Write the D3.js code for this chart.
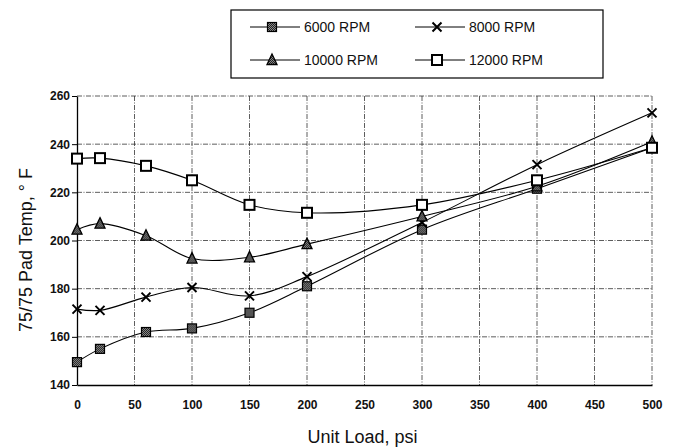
<!DOCTYPE html>
<html>
<head>
<meta charset="utf-8">
<script src="https://cdn.jsdelivr.net/npm/d3@7"></script>
<style>
  body { margin: 0; background: #fff; }
  svg { display: block; font-family: "Liberation Sans", Arial, sans-serif; }
</style>
</head>
<body>
<svg id="chart"></svg>
<script>
// data
var loads = [0, 20, 60, 100, 150, 200, 300, 400, 500];
var rpm6000 = [149.5, 155, 162, 163.5, 170, 181, 204.5, 221.5, 238.5];
var rpm8000 = [171.5, 171, 176.5, 180.5, 177, 185, 207.5, 231.5, 253];
var rpm10000 = [204.5, 207, 202, 192.5, 193, 198.5, 210, 222.5, 241];
var rpm12000 = [234, 234.2, 231, 225, 214.8, 211.5, 214.8, 225, 238.5];
var seriesNames = ["6000 RPM", "8000 RPM", "10000 RPM", "12000 RPM"];
var xTicks = [0, 50, 100, 150, 200, 250, 300, 350, 400, 450, 500];
var yTicks = [140, 160, 180, 200, 220, 240, 260];

var W = 673, H = 448;
var margin = { top: 96, right: 21, bottom: 63, left: 77 },
    width = W - margin.left - margin.right,
    height = H - margin.top - margin.bottom;

var svg = d3.select("#chart").attr("width", W).attr("height", H);

// dithered grey fill like the scanned markers
var defs = svg.append("defs");
var pat = defs.append("pattern").attr("id", "dots")
    .attr("width", 2).attr("height", 2).attr("patternUnits", "userSpaceOnUse");
pat.append("rect").attr("width", 2).attr("height", 2).attr("fill", "#888");
pat.append("rect").attr("width", 1).attr("height", 1).attr("fill", "#222");
pat.append("rect").attr("x", 1).attr("y", 1).attr("width", 1).attr("height", 1).attr("fill", "#222");

var g = svg.append("g").attr("transform", "translate(" + margin.left + "," + margin.top + ")");

var x = d3.scaleLinear().domain([0, 500]).range([0, width]);
var y = d3.scaleLinear().domain([140, 260]).range([height, 0]);

// grid
g.append("g").selectAll("line").data(yTicks.slice(1)).enter().append("line")
    .attr("x1", 0).attr("x2", width)
    .attr("y1", function(d) { return y(d) }).attr("y2", function(d) { return y(d) })
    .attr("stroke", "#333").attr("stroke-width", 0.8).attr("stroke-dasharray", "5,1.5,1,1.5");
g.append("g").selectAll("line").data(xTicks.slice(1)).enter().append("line")
    .attr("y1", 0).attr("y2", height)
    .attr("x1", function(d) { return x(d) }).attr("x2", function(d) { return x(d) })
    .attr("stroke", "#333").attr("stroke-width", 0.8).attr("stroke-dasharray", "5,1.5,1,1.5");

// axes
var yAxis = g.append("g")
    .call(d3.axisLeft(y).tickValues(yTicks).tickSize(5).tickSizeOuter(0));
yAxis.select(".domain").attr("stroke", "#000").attr("stroke-width", 1.3);
yAxis.selectAll("text").attr("font-family", "'Liberation Sans Narrow', 'Liberation Sans', Arial")
    .style("font-size", "12px").attr("font-weight", "bold").attr("fill", "#111").attr("x", -7);

var xAxis = g.append("g").attr("transform", "translate(0," + height + ")")
    .call(d3.axisBottom(x).tickValues(xTicks).tickSize(0).tickSizeOuter(0));
xAxis.select(".domain").attr("stroke", "#000").attr("stroke-width", 1.3);
xAxis.selectAll("text").attr("font-family", "'Liberation Sans Narrow', 'Liberation Sans', Arial")
    .style("font-size", "12px").attr("font-weight", "bold").attr("fill", "#111").attr("y", 15);

// axis titles
svg.append("text").attr("x", margin.left + width / 2 - 2).attr("y", 443)
    .attr("text-anchor", "middle").style("font-size", "18px").attr("fill", "#111")
    .text("Unit Load, psi");
svg.append("text")
    .attr("transform", "translate(32," + 250 + ") rotate(-90)")
    .attr("text-anchor", "middle").style("font-size", "18px").attr("fill", "#111")
    .text("75/75 Pad Temp, ° F");

var line = d3.line()
    .x(function(d) { return x(d[0]) })
    .y(function(d) { return y(d[1]) })
    .curve(d3.curveCatmullRom.alpha(0.5));

var allSeries = [rpm6000, rpm8000, rpm10000, rpm12000];
var markerTypes = ["filled", "cross", "triangle", "square"];

function drawMarker(sel, type) {
    if (type == "filled") {
        sel.append("rect").attr("x", -4.5).attr("y", -4.5).attr("width", 9).attr("height", 9)
            .attr("fill", "url(#dots)").attr("stroke", "#000").attr("stroke-width", 1.2);
    } else if (type == "cross") {
        sel.append("path").attr("d", "M-4.5,-4.5L4.5,4.5M4.5,-4.5L-4.5,4.5")
            .attr("stroke", "#000").attr("stroke-width", 2);
    } else if (type == "triangle") {
        sel.append("path").attr("d", "M0,-6L5,4.5L-5,4.5Z")
            .attr("fill", "url(#dots)").attr("stroke", "#000").attr("stroke-width", 1.3);
    } else {
        sel.append("rect").attr("x", -5).attr("y", -5).attr("width", 10).attr("height", 10)
            .attr("fill", "#fff").attr("stroke", "#000").attr("stroke-width", 2);
    }
}

allSeries.forEach(function(vals, i) {
    var pts = loads.map(function(l, j) { return [l, vals[j]] });
    g.append("path").datum(pts).attr("d", line)
        .attr("fill", "none").attr("stroke", "#000").attr("stroke-width", 1.1);
    g.selectAll(".m" + i).data(pts).enter().append("g")
        .attr("class", "m" + i)
        .attr("transform", function(d) { return "translate(" + x(d[0]) + "," + y(d[1]) + ")" })
        .each(function() { drawMarker(d3.select(this), markerTypes[i]) });
});

// legend
var legend = svg.append("g");
legend.append("rect").attr("x", 231).attr("y", 10).attr("width", 372).attr("height", 68)
    .attr("fill", "#fff").attr("stroke", "#000").attr("stroke-width", 1.2);
var legPos = [[250, 27], [415, 27], [250, 60], [415, 60]];
seriesNames.forEach(function(name, i) {
    var p = legPos[i];
    var item = legend.append("g").attr("transform", "translate(" + p[0] + "," + p[1] + ")");
    item.append("line").attr("x1", 0).attr("x2", 50).attr("y1", 0).attr("y2", 0)
        .attr("stroke", "#000").attr("stroke-width", 1);
    var mk = item.append("g").attr("transform", "translate(22,0)");
    drawMarker(mk, markerTypes[i]);
    item.append("text").attr("x", 54).attr("y", 5).style("font-size", "14px")
        .attr("fill", "#111").text(name);
});
</script>
</body>
</html>
